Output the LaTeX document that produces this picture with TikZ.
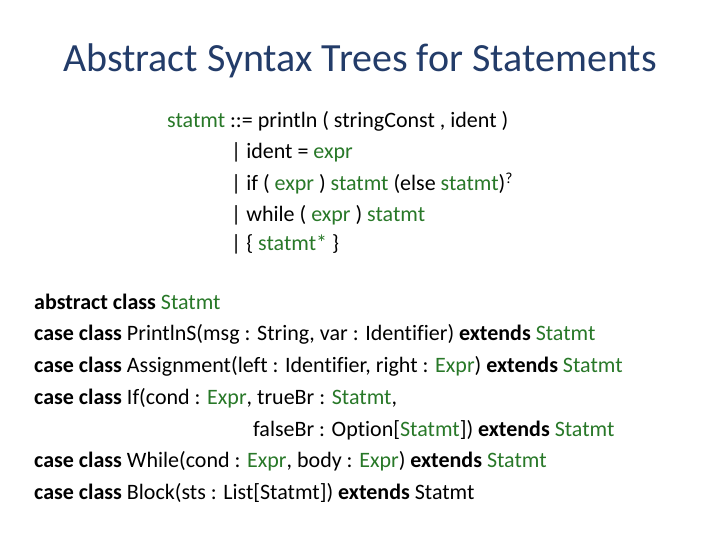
\documentclass[tikz,border=0pt]{standalone}
\usepackage{fontspec}
\setmainfont[Ligatures=NoCommon]{Carlito}
\definecolor{gr}{RGB}{40,120,40}
\definecolor{tt}{RGB}{35,60,105}
\newcommand{\g}[1]{\textcolor{gr}{#1}}
\begin{document}
\begin{tikzpicture}[x=1pt,y=-1pt,
  ln/.style={anchor=base west,inner sep=0pt,font=\fontsize{22}{26}\selectfont}]
\useasboundingbox (0,0) rectangle (720,540);
\node[anchor=base,inner sep=0pt,font=\fontsize{40}{45}\selectfont,text=tt] (title) at (360,72) {Abstract Syntax Trees for Statements};
\node[ln] (g1) at (167,128) {\g{statmt} ::= println ( stringConst , ident )};
\node[ln] (g2) at (231,159) {| ident = \g{expr}};
\node[ln] (g3) at (231,191) {| if ( \g{expr} ) \g{statmt} (else \g{statmt})\textsuperscript{?}};
\node[ln] (g4) at (231,222) {| while ( \g{expr} ) \g{statmt}};
\node[ln] (g5) at (231,250) {| \{ \g{statmt*} \}};
\node[ln] (c1) at (34,309) {\textbf{abstract class} \g{Statmt}};
\node[ln] (c2) at (34,340) {\textbf{case class} PrintlnS(msg : String, var : Identifier) \textbf{extends} \g{Statmt}};
\node[ln] (c3) at (34,372) {\textbf{case class} Assignment(left : Identifier, right : \g{Expr}) \textbf{extends} \g{Statmt}};
\node[ln] (c4) at (34,404) {\textbf{case class} If(cond : \g{Expr}, trueBr : \g{Statmt},};
\node[ln] (c5) at (253,436) {falseBr : Option[\g{Statmt}]) \textbf{extends} \g{Statmt}};
\node[ln] (c6) at (34,467) {\textbf{case class} While(cond : \g{Expr}, body : \g{Expr}) \textbf{extends} \g{Statmt}};
\node[ln] (c7) at (34,499) {\textbf{case class} Block(sts : List[Statmt]) \textbf{extends} Statmt};
\end{tikzpicture}
\end{document}
